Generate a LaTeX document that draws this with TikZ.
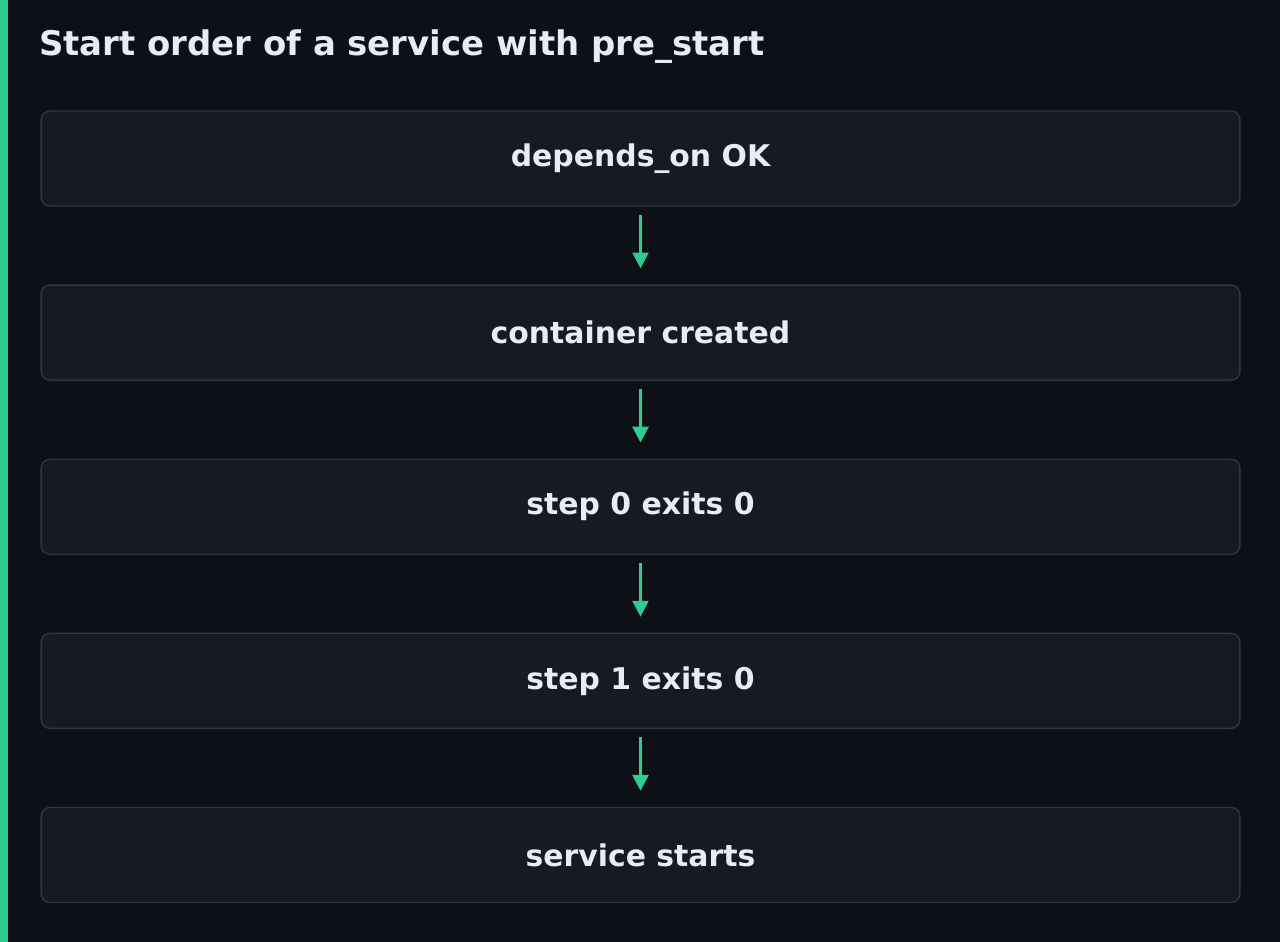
\documentclass[tikz,border=0pt]{standalone}
\usepackage{fontspec}
\setmainfont{DejaVu Sans}
\usetikzlibrary{positioning}
\usetikzlibrary{arrows.meta}
\definecolor{bgdark}{HTML}{0D1117}
\definecolor{boxfill}{HTML}{161B22}
\definecolor{boxline}{HTML}{30363D}
\definecolor{accent}{HTML}{2ECC8F}
\definecolor{textlight}{HTML}{E6EDF3}
\begin{document}
\begin{tikzpicture}
[x = 0.02cm, y = -0.02cm,
node distance = 1.555cm,
stage/.style = {rectangle, rounded corners = 5pt, draw = boxline, fill = boxfill, line width = 0.8pt, minimum width = 23.98cm, minimum height = 1.9cm, text = textlight, font = \bfseries\fontsize{17}{20}\selectfont},
flow/.style = {-{Triangle[length = 9pt, width = 9pt]}, draw = accent, line width = 1.6pt, shorten <= 8*0.02cm, shorten >= 16*0.02cm}]

\fill[bgdark] (0, 0) rectangle (1280, 942);
\useasboundingbox (0, 0) rectangle (1280, 942);
\fill[accent] (0, 0) rectangle (8, 942);

\node[anchor = west, text = textlight, font = \bfseries\fontsize{19.3}{23}\selectfont] (title) at (33, 47) {Start order of a service with pre\_start};

\node[stage] (depends) at (640.5, 158.5) {depends\_on OK};
\node[stage] (created) [below = of depends] {container created};
\node[stage] (stepzero) [below = of created] {step 0 exits 0};
\node[stage] (stepone) [below = of stepzero] {step 1 exits 0};
\node[stage] (starts) [below = of stepone] {service starts};

\draw[flow] (depends) -- (created);
\draw[flow] (created) -- (stepzero);
\draw[flow] (stepzero) -- (stepone);
\draw[flow] (stepone) -- (starts);
\end{tikzpicture}
\end{document}
